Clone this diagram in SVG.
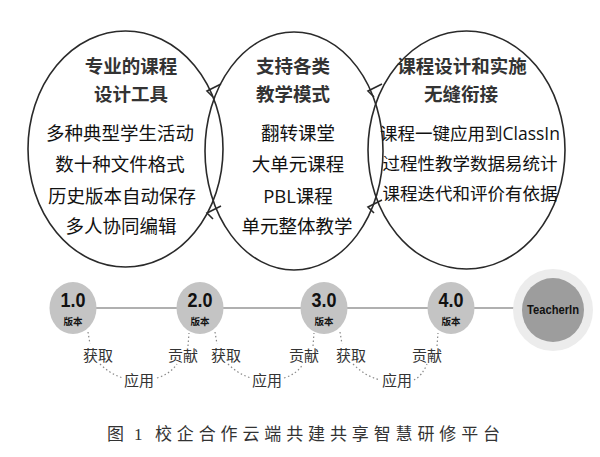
<svg xmlns="http://www.w3.org/2000/svg" width="600" height="457" viewBox="0 0 600 457">
<style>
.ring{fill:none;stroke:#2a2a2a;stroke-width:1.6}
.hook{fill:none;stroke:#2a2a2a;stroke-width:1.6;stroke-linejoin:miter}
.title{font-family:"Noto Sans CJK SC","Noto Sans",sans-serif;font-weight:700;font-size:18.5px;fill:#333;text-anchor:middle}
.body{font-family:"Open Sans","Noto Sans CJK SC",sans-serif;font-size:18.5px;fill:#111;text-anchor:middle}
.body2{font-family:"Open Sans","Noto Sans CJK SC",sans-serif;font-size:17.5px;fill:#111;text-anchor:middle}
.ver{fill:#c4c4c4}
.vnum{font-family:"Liberation Sans",Arial,sans-serif;font-weight:700;font-size:20px;fill:#111;text-anchor:middle}
.vtxt{font-family:"Noto Sans CJK SC",sans-serif;font-weight:700;font-size:9.5px;fill:#111;text-anchor:middle}
.lbl{font-family:"Noto Sans CJK SC",sans-serif;font-size:15px;fill:#333;text-anchor:middle}
.dot{fill:none;stroke:#888;stroke-width:1.2;stroke-dasharray:1.5 2.5}
.cap{font-family:"Liberation Serif","Noto Sans CJK SC",serif;font-size:17px;fill:#333}
</style>
<rect width="600" height="457" fill="#fff"/>
<g id="rings">
<g id="ring-left">
<ellipse class="ring" cx="125.5" cy="149" rx="97.5" ry="118"/>
<text class="title" x="131" y="73">专业的课程</text>
<text class="title" x="131" y="101">设计工具</text>
<text class="body" x="120" y="140">多种典型学生活动</text>
<text class="body" x="120" y="171">数十种文件格式</text>
<text class="body" x="122" y="203">历史版本自动保存</text>
<text class="body" x="121" y="233">多人协同编辑</text>
</g>
<g id="ring-middle">
<ellipse class="ring" cx="294" cy="151" rx="89" ry="119"/>
<text class="title" x="293" y="73">支持各类</text>
<text class="title" x="293" y="101">教学模式</text>
<text class="body" x="298" y="140">翻转课堂</text>
<text class="body" x="298" y="171">大单元课程</text>
<text class="body" x="298" y="203">PBL课程</text>
<text class="body" x="297" y="233">单元整体教学</text>
</g>
<g id="ring-right">
<ellipse class="ring" cx="466.5" cy="150" rx="98.5" ry="119"/>
<text class="title" x="462" y="73">课程设计和实施</text>
<text class="title" x="461" y="101">无缝衔接</text>
<text class="body2" x="470" y="140">课程一键应用到ClassIn</text>
<text class="body2" x="470" y="170">过程性教学数据易统计</text>
<text class="body2" x="470" y="200">课程迭代和评价有依据</text>
</g>
</g>
<g id="hooks">
<path class="hook" d="M221 84 L207 91 L213 97"/>
<path class="hook" d="M221 206 L207 213 L213 219"/>
<path class="hook" d="M382 84 L368 91 L374 97"/>
<path class="hook" d="M382 200 L368 207 L374 213"/>
</g>
<g id="connectors">
<line x1="96" y1="308" x2="515" y2="308" stroke="#b0b0b0" stroke-width="2"/>
<path class="dot" d="M88 332 L90 344"/>
<path class="dot" d="M100 364 Q110 374 123 378"/>
<path class="dot" d="M157 378 Q170 374 177 364"/>
<path class="dot" d="M188 346 L189 333"/>
<path class="dot" d="M215 332 L217 344"/>
<path class="dot" d="M228 364 Q238 374 251 378"/>
<path class="dot" d="M284 378 Q297 374 303 364"/>
<path class="dot" d="M313 346 L314 333"/>
<path class="dot" d="M340 332 L342 344"/>
<path class="dot" d="M353 364 Q365 376 380 380"/>
<path class="dot" d="M414 380 Q422 376 427 364"/>
<path class="dot" d="M437 346 L438 333"/>
</g>
<g id="v1"><ellipse class="ver" cx="73" cy="308" rx="23.5" ry="26"/><text class="vnum" x="73" y="307" textLength="25" lengthAdjust="spacingAndGlyphs">1.0</text><text class="vtxt" x="73" y="325">版本</text></g>
<g id="v2"><ellipse class="ver" cx="200" cy="308" rx="23.5" ry="26"/><text class="vnum" x="200" y="307" textLength="25" lengthAdjust="spacingAndGlyphs">2.0</text><text class="vtxt" x="200" y="325">版本</text></g>
<g id="v3"><ellipse class="ver" cx="324" cy="308" rx="23.5" ry="26"/><text class="vnum" x="324" y="307" textLength="25" lengthAdjust="spacingAndGlyphs">3.0</text><text class="vtxt" x="324" y="325">版本</text></g>
<g id="v4"><ellipse class="ver" cx="451" cy="308" rx="23.5" ry="26"/><text class="vnum" x="451" y="307" textLength="25" lengthAdjust="spacingAndGlyphs">4.0</text><text class="vtxt" x="451" y="325">版本</text></g>
<g id="teacherin"><ellipse cx="553" cy="310" rx="40" ry="41" fill="#ececec"/><ellipse cx="553" cy="310" rx="31" ry="32" fill="#9d9d9d"/><text x="553" y="314" font-family="Liberation Sans,Arial,sans-serif" font-size="12" font-weight="700" fill="#111" text-anchor="middle" textLength="52" lengthAdjust="spacingAndGlyphs">TeacherIn</text></g>
<g id="labels">
<text class="lbl" x="98" y="361">获取</text>
<text class="lbl" x="139" y="386">应用</text>
<text class="lbl" x="183" y="361">贡献</text>
<text class="lbl" x="226" y="361">获取</text>
<text class="lbl" x="267" y="386">应用</text>
<text class="lbl" x="304" y="361">贡献</text>
<text class="lbl" x="351" y="361">获取</text>
<text class="lbl" x="397" y="386">应用</text>
<text class="lbl" x="427" y="361">贡献</text>
</g>
<text class="cap" y="440"><tspan x="107">图</tspan><tspan x="134">1</tspan><tspan x="155" textLength="345">校企合作云端共建共享智慧研修平台</tspan></text>
</svg>
